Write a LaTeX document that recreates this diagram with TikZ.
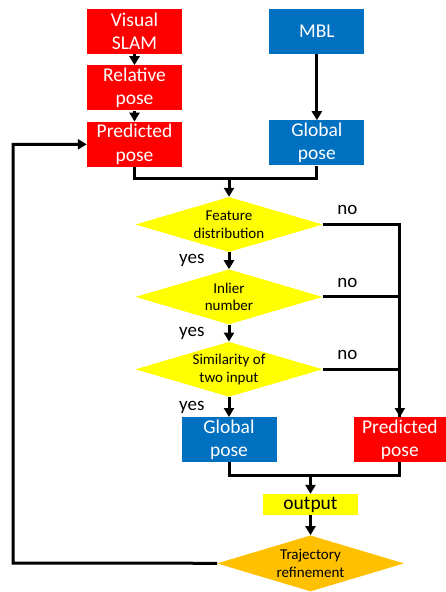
\documentclass[tikz,border=0pt]{standalone}
\usepackage{fontspec}
\setmainfont{Carlito}
\usepackage{xcolor}
\usepackage{tikz}
\usetikzlibrary{shapes.geometric, positioning, arrows.meta}

\definecolor{slamred}{RGB}{255,0,0}
\definecolor{mblblue}{RGB}{0,112,192}
\definecolor{checkyellow}{RGB}{255,255,0}
\definecolor{refineorange}{RGB}{255,192,0}

\tikzset{
  redbox/.style={rectangle, fill=slamred, text=white, minimum width=95pt, minimum height=45pt,
    inner sep=0pt, align=center, font=\fontsize{19.5}{23.5}\selectfont},
  bluebox/.style={redbox, fill=mblblue},
  outbox/.style={redbox, fill=checkyellow, text=black, minimum height=21pt},
  check/.style={diamond, fill=checkyellow, shape aspect=3.4, minimum width=187pt, minimum height=55pt,
    inner sep=0pt, align=center, font=\fontsize{15}{17.5}\selectfont},
  refine/.style={check, fill=refineorange, minimum height=56pt},
  lbl/.style={inner sep=0pt, font=\fontsize{19}{22}\selectfont},
  flowline/.style={line width=3pt},
  flowarrow/.style={flowline, -{Triangle[length=9pt,width=10pt]}}
}

\begin{document}
\begin{tikzpicture}[x=1pt, y=1pt]
			\useasboundingbox (0,0) rectangle (446,-592);

			% Nodes
			\node (vslam) [redbox] at (134.5,-31.5) {Visual\\SLAM};
			\node (relpose) [redbox, below=11pt of vslam] {Relative\\pose};
			\node (predtop) [redbox, below=11pt of relpose] {Predicted\\pose};
			\node (mbl) [bluebox, right=87pt of vslam] {MBL};
			\node (globtop) [bluebox, below=66pt of mbl] {Global\\pose};
			\node (feat) [check] at (229,-224.5) {Feature\\distribution};
			\node (inlier) [check, below=17pt of feat] {Inlier\\number};
			\node (simil) [check, below=17pt of inlier] {Similarity of\\two input};
			\node (globbot) [bluebox, below=20pt of simil] {Global\\pose};
			\node (predbot) [redbox, minimum width=92pt, right=77pt of globbot] {Predicted\\pose};
			\node (output) [outbox] at (310.5,-504.5) {output};
			\node (traj) [refine, below=20pt of output] {Trajectory\\refinement};

			\coordinate (topjoin) at (229,-178);
			\coordinate (botjoin) at (310.5,-475);
			\coordinate (loopback) at (13,-563);

			% Edges
			\draw[flowarrow] (vslam) -- (relpose);
			\draw[flowarrow] (relpose) -- (predtop);
			\draw[flowarrow] (mbl) -- (globtop);
			\draw[flowline] (predtop) |- (topjoin) -| (globtop);
			\draw[flowarrow] (topjoin) -- (feat);
			\draw[flowarrow] (feat) -- node[lbl, left=23pt] (yes1) {yes} (inlier);
			\draw[flowarrow] (inlier) -- node[lbl, left=23pt] (yes2) {yes} (simil);
			\draw[flowarrow] (simil) -- node[lbl, left=23pt] (yes3) {yes} (globbot);
			\draw[flowarrow] (feat) -| node[lbl, pos=0.16, above=8pt] (no1) {no} (predbot);
			\draw[flowline] (inlier) -| node[lbl, pos=0.16, above=8pt] (no2) {no} (predbot);
			\draw[flowline] (simil) -| node[lbl, pos=0.16, above=8pt] (no3) {no} (predbot);
			\draw[flowline] (globbot) |- (botjoin) -| (predbot);
			\draw[flowarrow] (botjoin) -- (output);
			\draw[flowarrow] (output) -- (traj);
			\draw[flowarrow] (traj) -- (loopback) |- (predtop);

		\end{tikzpicture}
\end{document}
